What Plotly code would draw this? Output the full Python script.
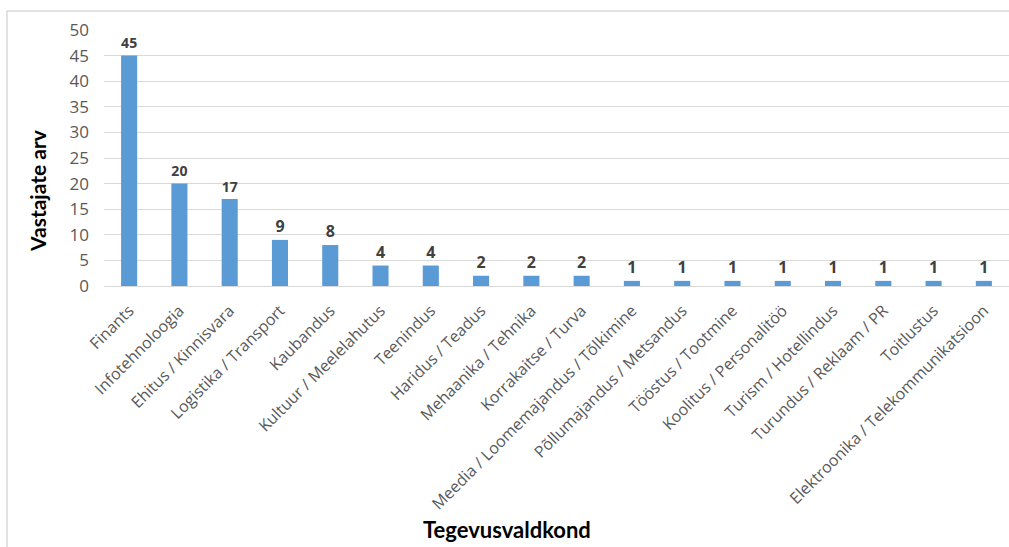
import plotly.graph_objects as go

categories = [
    "Finants", "Infotehnoloogia", "Ehitus / Kinnisvara", "Logistika / Transport",
    "Kaubandus", "Kultuur / Meelelahutus", "Teenindus", "Haridus / Teadus",
    "Mehaanika / Tehnika", "Korrakaitse / Turva", "Meedia / Loomemajandus / Tõlkimine",
    "Põllumajandus / Metsandus", "Tööstus / Tootmine", "Koolitus / Personalitöö",
    "Turism / Hotellindus", "Turundus / Reklaam / PR", "Toitlustus",
    "Elektroonika / Telekommunikatsioon",
]
respondents = [45, 20, 17, 9, 8, 4, 4, 2, 2, 2, 1, 1, 1, 1, 1, 1, 1, 1]
y_ticks = [0, 5, 10, 15, 20, 25, 30, 35, 40, 45, 50]

BAR = "#5b9bd5"
GRID = "#d9d9d9"
TICK = "#595959"

fig = go.Figure(
    go.Bar(
        x=categories,
        y=respondents,
        marker=dict(color=BAR, line=dict(width=0)),
        text=respondents,
        textposition="outside",
        cliponaxis=False,
        textfont=dict(family="Open Sans", size=16, color="#404040", weight="bold"),
        hoverinfo="x+y",
    )
)

fig.update_layout(
    width=1009,
    height=547,
    margin=dict(l=104, r=0, t=30, b=261),
    paper_bgcolor="white",
    plot_bgcolor="white",
    bargap=0.68,
    showlegend=False,
    font=dict(family="Open Sans", color=TICK),
)

fig.update_yaxes(
    range=[0, 50],
    tickvals=y_ticks,
    showgrid=True,
    gridcolor=GRID,
    gridwidth=1,
    zeroline=False,
    showline=False,
    ticks="",
    ticklabelstandoff=14,
    tickfont=dict(family="Open Sans", size=17, color=TICK),
)

fig.update_xaxes(
    tickangle=-45,
    showline=True,
    linecolor=GRID,
    linewidth=1,
    ticks="",
    showgrid=False,
    ticklabelstandoff=8,
    tickfont=dict(family="Open Sans", size=16, color=TICK),
)

# axis titles
fig.add_annotation(
    text="Vastajate arv", xref="paper", yref="paper",
    x=(37 - 104) / 905, y=(286 - 191) / 256, textangle=-90,
    showarrow=False, xanchor="center", yanchor="middle",
    font=dict(family="Lato", size=21, color="black", weight="bold"),
)
fig.add_annotation(
    text="Tegevusvaldkond", xref="paper", yref="paper",
    x=(507 - 104) / 905, y=(286 - 529) / 256,
    showarrow=False, xanchor="center", yanchor="middle",
    font=dict(family="Lato", size=22, color="black", weight="bold"),
)

# chart frame (left and top edges)
fig.add_shape(type="line", xref="paper", yref="paper",
              x0=(7 - 104) / 905, x1=(7 - 104) / 905,
              y0=(286 - 11) / 256, y1=(286 - 560) / 256,
              line=dict(color=GRID, width=1.5))
fig.add_shape(type="line", xref="paper", yref="paper",
              x0=(7 - 104) / 905, x1=1.01,
              y0=(286 - 11) / 256, y1=(286 - 11) / 256,
              line=dict(color=GRID, width=1.5))

fig.write_html("out.html")
